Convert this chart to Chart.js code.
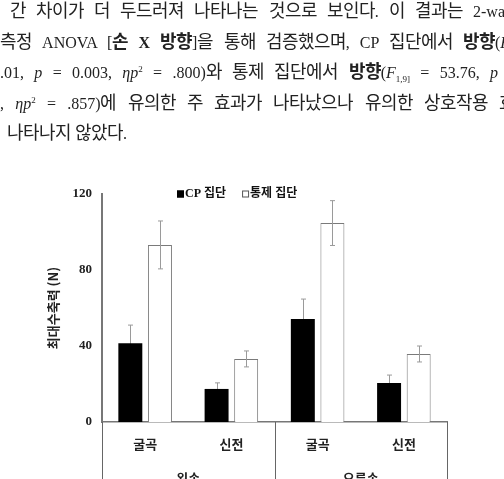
<!DOCTYPE html>
<html>
<head>
<meta charset="utf-8">
<script src="https://cdn.jsdelivr.net/npm/chart.js@4/dist/chart.umd.min.js"></script>
<style>
	@font-face {
		font-family: "KRText";
		src: local("Noto Sans CJK KR"), local("Noto Sans CJK KR Regular"), local("NotoSansCJKkr-Regular");
		font-weight: normal;
		size-adjust: 112%;
	}
	@font-face {
		font-family: "KRText";
		src: local("Noto Sans CJK KR Bold"), local("NotoSansCJKkr-Bold");
		font-weight: bold;
		size-adjust: 112%;
	}
	html, body { margin: 0; padding: 0; background: #fff; }
	#page { position: relative; width: 504px; height: 479px; overflow: hidden; }
	#chart { position: absolute; left: 0; top: 0; }
	#text { position: absolute; left: 0; top: -3px; font-family: "Liberation Serif", "KRText", "Noto Sans CJK KR", serif; font-size: 16px; line-height: 30.5px; color: #222; }
	.line { text-align: justify; text-align-last: justify; }
	.line b { font-weight: bold; }
	sup { font-size: 9px; line-height: 0; }
	sub { font-size: 9px; line-height: 0; }
</style>
</head>
<body>
<div id="page">
	<canvas id="chart" width="504" height="479"></canvas>
	<div id="text">
		<div class="line" style="margin-left:10px;width:503px;">간 차이가 더 두드러져 나타나는 것으로 보인다. 이 결과는 2-way</div>
		<div class="line" style="width:510px;">측정 ANOVA [<b>손 X 방향</b>]을 통해 검증했으며, CP 집단에서 <b>방향</b>(<i>F</i></div>
		<div class="line" style="width:498px;">.01, <i>p</i> = 0.003, <i>ηp</i><sup>2</sup> = .800)와 통제 집단에서 <b>방향</b>(<i>F</i><sub>1,9]</sub> = 53.76, <i>p</i></div>
		<div class="line" style="width:515px;">, <i>ηp</i><sup>2</sup> = .857)에 유의한 주 효과가 나타났으나 유의한 상호작용 효</div>
		<div style="margin-left:7px;">나타나지 않았다.</div>
	</div>
</div>
<script>
const categories = ['굴곡', '신전', '굴곡', '신전'];
const hands = ['왼손', '오른손'];
const seriesNames = ['CP 집단', '통제 집단'];
const cpMeans = [41.5, 17.4, 54.2, 20.5];
const cpSD = [9.5, 3.2, 10.5, 4.2];
const ctrlMeans = [93.2, 33.2, 104.7, 35.8];
const ctrlSD = [12.6, 4.2, 11.8, 4.2];
const yTicks = [0, 40, 80, 120];

const serif = '"Liberation Serif", "Noto Sans CJK KR", serif';
const sans = '"Noto Sans CJK KR", sans-serif';

function drawErrorBars(chart, index) {
	const ctx = chart.ctx;
	const yScale = chart.scales.y;
	const meta = chart.getDatasetMeta(index);
	const sds = chart.data.datasets[index].sd;
	const means = chart.data.datasets[index].data;
	ctx.save();
	ctx.strokeStyle = '#9a9a9a';
	ctx.lineWidth = 1;
	meta.data.forEach((bar, i) => {
		const x = Math.round(bar.x) + 0.5;
		const top = yScale.getPixelForValue(means[i] + sds[i]);
		const bottom = yScale.getPixelForValue(means[i] - sds[i]);
		ctx.beginPath();
		ctx.moveTo(x, top);
		ctx.lineTo(x, bottom);
		ctx.moveTo(x - 2.5, top);
		ctx.lineTo(x + 2.5, top);
		ctx.moveTo(x - 2.5, bottom);
		ctx.lineTo(x + 2.5, bottom);
		ctx.stroke();
	});
	ctx.restore();
}

const errorBarPlugin = {
	id: 'errorBars',
	beforeDatasetsDraw(chart) {
		drawErrorBars(chart, 0);
	},
	afterDatasetsDraw(chart) {
		drawErrorBars(chart, 1);
	}
};

const groupAxisPlugin = {
	id: 'groupAxis',
	afterDraw(chart) {
		const ctx = chart.ctx;
		const xScale = chart.scales.x;
		const area = chart.chartArea;
		const mid = (xScale.getPixelForValue(1) + xScale.getPixelForValue(2)) / 2;
		const edges = [area.left, mid, area.right];
		ctx.save();
		ctx.strokeStyle = '#666';
		ctx.lineWidth = 1;
		edges.forEach(x => {
			const px = Math.round(x) + 0.5;
			ctx.beginPath();
			ctx.moveTo(px, area.bottom);
			ctx.lineTo(px, chart.height);
			ctx.stroke();
		});
		ctx.fillStyle = '#222';
		ctx.font = 'bold 13px ' + sans;
		ctx.textAlign = 'center';
		ctx.textBaseline = 'middle';
		hands.forEach((h, i) => {
			ctx.fillText(h, (edges[i] + edges[i + 1]) / 2, area.bottom + 56);
		});
		ctx.restore();
	}
};

const legendPlugin = {
	id: 'miniLegend',
	afterDraw(chart) {
		const ctx = chart.ctx;
		const area = chart.chartArea;
		let x = area.left + 75;
		const y = area.top;
		ctx.save();
		ctx.font = 'bold 12px ' + serif;
		ctx.textBaseline = 'middle';
		chart.data.datasets.forEach(ds => {
			ctx.fillStyle = ds.backgroundColor;
			ctx.fillRect(x, y - 3.5, 7, 7);
			ctx.strokeStyle = ds.backgroundColor === '#000' ? '#000' : '#555';
			ctx.lineWidth = 1;
			ctx.strokeRect(x + 0.5, y - 3, 6, 6);
			ctx.fillStyle = '#111';
			ctx.fillText(ds.label, x + 8, y);
			x += 8 + ctx.measureText(ds.label).width + 16;
		});
		ctx.restore();
	}
};

new Chart(document.getElementById('chart'), {
	type: 'bar',
	data: {
		labels: categories,
		datasets: [{
			label: seriesNames[0],
			data: cpMeans,
			sd: cpSD,
			backgroundColor: '#000',
			borderWidth: 0
		}, {
			label: seriesNames[1],
			data: ctrlMeans,
			sd: ctrlSD,
			backgroundColor: '#fff',
			borderColor: '#7a7a7a',
			borderWidth: 1
		}]
	},
	options: {
		responsive: false,
		animation: false,
		categoryPercentage: 0.686,
		barPercentage: 0.81,
		layout: {
			padding: { left: 45, right: 57, top: 194, bottom: 0 }
		},
		scales: {
			x: {
				grid: { display: false, drawTicks: false },
				border: { display: true, color: '#777', width: 1.5 },
				ticks: {
					padding: 14,
					color: '#222',
					font: { family: sans, size: 13, weight: 'bold' }
				},
				afterFit(scale) {
					scale.height = 57;
				}
			},
			y: {
				min: 0,
				max: 120,
				afterBuildTicks(scale) {
					scale.ticks = yTicks.map(v => ({ value: v }));
				},
				grid: { display: false, drawTicks: false },
				border: { display: true, color: '#777', width: 2 },
				ticks: {
					padding: 10,
					color: '#222',
					font: { family: serif, size: 13, weight: 'bold' }
				},
				title: {
					display: true,
					text: '최대수축력 (N)',
					color: '#222',
					padding: { top: 0, bottom: 0 },
					font: { family: sans, size: 13, weight: 'bold' }
				},
				afterFit(scale) {
					scale.width = 57;
				}
			}
		},
		plugins: {
			legend: { display: false },
			tooltip: { enabled: false }
		}
	},
	plugins: [errorBarPlugin, groupAxisPlugin, legendPlugin]
});
</script>
</body>
</html>
